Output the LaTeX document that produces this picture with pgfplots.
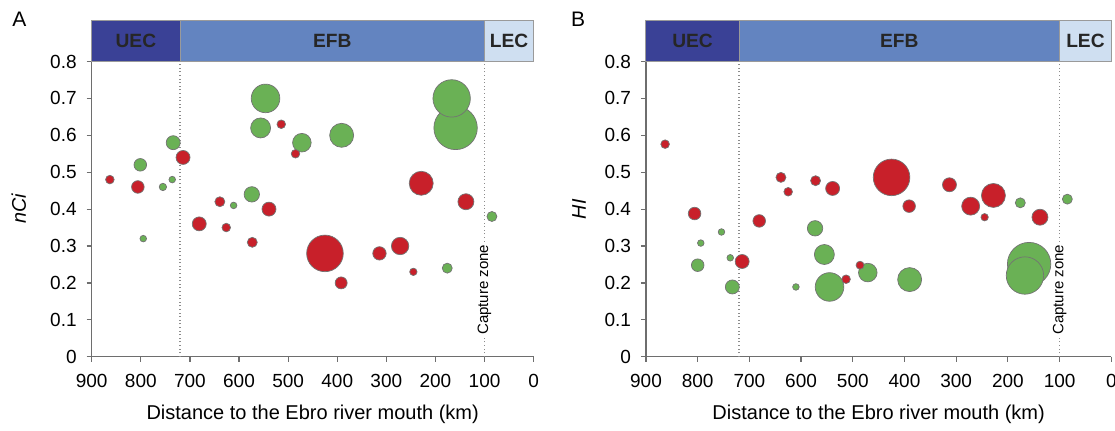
\documentclass[border=0pt]{standalone}
\usepackage{fontspec}
\setmainfont{Liberation Sans}
\usepackage{pgfplots}
\usepackage{pgfplotstable}
\pgfplotsset{compat=1.18}
\definecolor{cred}{RGB}{200,32,42}
\definecolor{cgreen}{RGB}{106,177,85}
\definecolor{cuec}{RGB}{58,65,150}
\definecolor{cefb}{RGB}{99,132,192}
\definecolor{clec}{RGB}{207,223,241}
\definecolor{caxis}{RGB}{110,110,110}

% x = distance (km), y = index, r = bubble radius (pt)
\pgfplotstableread{
x y r
801 0.52 3.15
734 0.58 3.5
755 0.46 1.85
736 0.48 1.65
795 0.32 1.65
574 0.44 3.85
611 0.41 1.65
546 0.70 7.15
556 0.62 5.0
472 0.58 4.65
391 0.60 6.0
159 0.62 10.85
167 0.70 9.35
176 0.24 2.5
85 0.38 2.5
}\ncigreen
\pgfplotstableread{
x y r
863 0.48 2.15
806 0.46 3.15
714 0.54 3.5
639 0.42 2.5
681 0.36 3.5
626 0.35 2.15
539 0.40 3.5
573 0.31 2.5
514 0.63 2.15
485 0.55 2.15
425 0.28 9.15
392 0.20 3.0
314 0.28 3.35
272 0.30 4.35
245 0.23 1.85
229 0.47 6.0
138 0.42 4.0
}\ncired
\pgfplotstableread{
x y r
794 0.308 1.65
754 0.338 1.65
800 0.248 3.15
737 0.268 1.65
733 0.189 3.5
610 0.189 1.65
573 0.348 3.85
555 0.277 5.0
545 0.189 7.15
471 0.228 4.65
390 0.209 6.0
159 0.251 10.85
167 0.220 9.35
176 0.417 2.5
85 0.427 2.5
}\higreen
\pgfplotstableread{
x y r
863 0.576 2.15
806 0.388 3.15
714 0.258 3.5
681 0.368 3.15
639 0.486 2.5
625 0.447 2.15
572 0.477 2.5
539 0.456 3.5
486 0.248 2.0
513 0.210 2.15
425 0.486 9.15
391 0.408 3.15
313 0.466 3.5
272 0.408 4.5
228 0.437 6.0
245 0.378 1.85
138 0.378 4.0
}\hired

\pgfplotsset{
  bubbles/.style={scatter, only marks, mark=*,
    scatter/use mapped color={draw=black!55, fill=#1},
    mark options={line width=0.35pt},
    visualization depends on={\thisrow{r} \as \rad},
    scatter/@pre marker code/.append style={/tikz/mark size=\rad pt}},
  panel/.style={scale only axis, height=147.6pt,
    xmin=0, xmax=900, x dir=reverse, ymin=0, ymax=0.8,
    xtick={0,100,...,900}, ytick={0,0.1,...,0.8},
    axis lines=left, axis line style={-, draw=caxis, line width=0.6pt},
    tick align=outside, major tick length=2.5pt, tick style={draw=caxis, line width=0.6pt},
    minor tick num=0,
    /pgf/number format/assume math mode=true,
    /pgf/number format/fixed, /pgf/number format/precision=1,
    tick label style={font=\fontsize{9.5}{11}\selectfont, text=black},
    yticklabel style={xshift=-1.5pt},
    xticklabel style={yshift=-2.5pt},
    xlabel={Distance to the Ebro river mouth (km)},
    xlabel style={font=\fontsize{9.9}{12}\selectfont, text=black!85},
    every axis x label/.style={at={(axis description cs:0.5,-0.194)}, anchor=center},
    clip=false},
}

\newcommand{\header}{%
  \draw[caxis!70, line width=0.5pt, fill=cuec] (axis cs:900,0.8) rectangle (axis cs:720,0.9125);
  \draw[caxis!70, line width=0.5pt, fill=cefb] (axis cs:720,0.8) rectangle (axis cs:100,0.9125);
  \draw[caxis!70, line width=0.5pt, fill=clec] (axis cs:100,0.8) rectangle (axis cs:0,0.9125);
  \node[font=\fontsize{9.6}{11}\selectfont\bfseries, text=black!85] at (axis cs:810,0.856) {UEC};
  \node[font=\fontsize{9.6}{11}\selectfont\bfseries, text=black!85] at (axis cs:410,0.856) {EFB};
  \node[font=\fontsize{9.6}{11}\selectfont\bfseries, text=black!85] at (axis cs:50,0.856) {LEC};
  \draw[black!45, line width=0.6pt, dash pattern=on 0.5pt off 1.3pt] (axis cs:720,0) -- (axis cs:720,0.8);
  \draw[black!45, line width=0.6pt, dash pattern=on 0.5pt off 1.3pt] (axis cs:100,0) -- (axis cs:100,0.8);
  \node[rotate=90, anchor=west, fill=white, inner sep=0.8pt, font=\fontsize{7.5}{9}\selectfont] at (axis cs:100,0.054) {Capture zone};
}

\begin{document}
\begin{tikzpicture}
\useasboundingbox (0,0) rectangle (557.5pt,215pt);
\node[font=\fontsize{10.5}{12}\selectfont] at (9.75pt,205.25pt) {A};
\node[font=\fontsize{10.5}{12}\selectfont] at (289pt,205.25pt) {B};

\begin{axis}[panel, width=221pt, at={(45.85pt,36.65pt)}, anchor=south west,
  ylabel={nCi},
  every axis y label/.style={at={(axis description cs:-0.165,0.5)}, rotate=90, anchor=center,
    font=\fontsize{9.9}{12}\selectfont\itshape}]
  \header
  \addplot[bubbles=cgreen] table {\ncigreen};
  \addplot[bubbles=cred] table {\ncired};
\end{axis}

\begin{axis}[panel, width=232.65pt, at={(323pt,36.65pt)}, anchor=south west,
  ylabel={HI},
  every axis y label/.style={at={(axis description cs:-0.144,0.5)}, rotate=90, anchor=center,
    font=\fontsize{9.9}{12}\selectfont\itshape}]
  \header
  \addplot[bubbles=cgreen] table {\higreen};
  \addplot[bubbles=cred] table {\hired};
\end{axis}
\end{tikzpicture}
\end{document}
